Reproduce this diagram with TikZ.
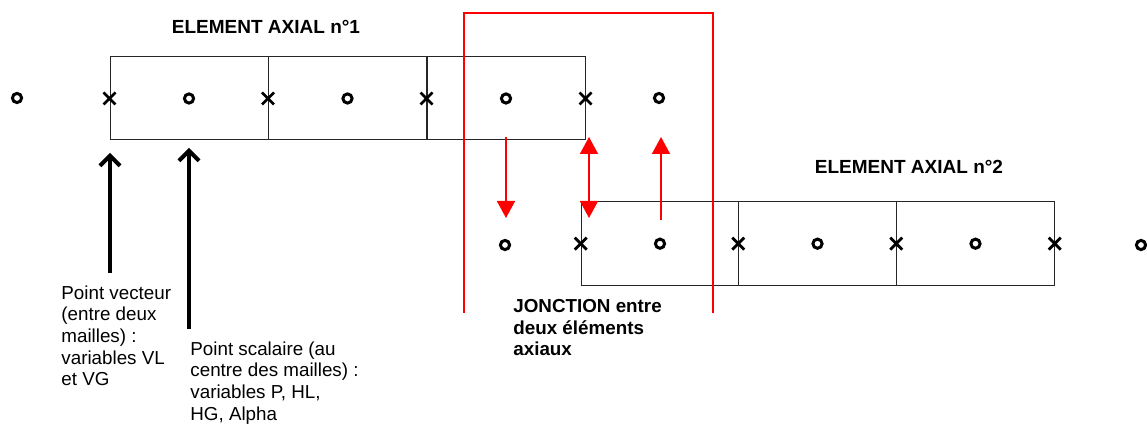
\documentclass[tikz,border=0pt]{standalone}
\usepackage{fontspec}
\setmainfont{Liberation Sans}
\usetikzlibrary{shapes.misc,arrows.meta}

\begin{document}
\begin{tikzpicture}[
    x=0.5pt, y=-0.5pt,
    cell/.style={rectangle, draw=black!85, line width=0.5pt, minimum width=79pt, minimum height=41.5pt, inner sep=0pt},
    scal/.style={circle, draw, line width=1.5pt, inner sep=0pt, minimum size=4.6pt},
    vect/.style={cross out, draw, line width=1.4pt, inner sep=0pt, minimum size=4.6pt},
    title/.style={font=\bfseries\fontsize{9.5}{11}\selectfont},
    note/.style={font=\fontsize{9.4}{10.85}\selectfont, align=left, anchor=north west, inner sep=0pt},
    pointer/.style={-{Straight Barb[length=5pt, width=10pt]}, line width=2pt},
    link/.style={red, line width=0.8pt}
]
\useasboundingbox (0,0) rectangle (1147,427);

% Element axial 1
\node[title] (titleA) at (266,27) {ELEMENT AXIAL n°1};
\node[cell] (cellA1) at (189,98.5) {};
\node[cell] (cellA2) at (347.5,98.5) {};
\node[cell] (cellA3) at (506,98.5) {};

% Element axial 2
\node[title] (titleB) at (909,167) {ELEMENT AXIAL n°2};
\node[cell, minimum height=42pt, minimum width=78.75pt] (cellB1) at (660,243.7) {};
\node[cell, minimum height=42pt, minimum width=78.75pt] (cellB2) at (817.5,243.7) {};
\node[cell, minimum height=42pt, minimum width=78.75pt] (cellB3) at (975.5,243.7) {};

% Points scalaires
\node[scal] (sA0) at (17,98) {};
\node[scal] (sA1) at (cellA1) {};
\node[scal] (sA2) at (cellA2) {};
\node[scal] (sA3) at (cellA3) {};
\node[scal] (sA4) at (659,98) {};
\node[scal] (sB0) at (505,245) {};
\node[scal] (sB1) at (cellB1) {};
\node[scal] (sB2) at (cellB2) {};
\node[scal] (sB3) at (cellB3) {};
\node[scal] (sB4) at (1141,245) {};

% Points vecteurs
\node[vect] (vA1) at (cellA1.west) {};
\node[vect] (vA2) at (cellA2.west) {};
\node[vect] (vA3) at (cellA3.west) {};
\node[vect] (vA4) at (cellA3.east) {};
\node[vect] (vB1) at (cellB1.west) {};
\node[vect] (vB2) at (cellB2.west) {};
\node[vect] (vB3) at (cellB3.west) {};
\node[vect] (vB4) at (cellB3.east) {};

% Jonction
\draw[red, line width=1pt] (464,313) -- (464,13) -- (713,13) -- (713,313);
\node[note, font=\bfseries\fontsize{9.4}{10.85}\selectfont] (jonction) at (513,299) {JONCTION entre\\deux éléments\\axiaux};
\coordinate (dA) at (506,137);
\coordinate (dB) at (506,218);
\coordinate (eA) at (589,137);
\coordinate (eB) at (589,218);
\coordinate (uA) at (661,137);
\coordinate (uB) at (661,220);
\draw[link, -{Triangle[length=8.5pt, width=9pt]}] (dA) -- (dB);
\draw[link, {Triangle[length=8.5pt, width=9pt]}-{Triangle[length=8.5pt, width=9pt]}] (eA) -- (eB);
\draw[link, -{Triangle[length=8.5pt, width=9pt]}] (uB) -- (uA);

% Legendes
\node[note] (vecteur) at (61,285) {Point vecteur\\(entre deux\\mailles) :\\variables VL\\et VG};
\node[note] (scalaire) at (190,341) {Point scalaire (au\\centre des mailles) :\\variables P, HL,\\HG, Alpha};
\coordinate (pV) at (110,273);
\coordinate (tV) at (110,153);
\coordinate (pS) at (189,329);
\coordinate (tS) at (189,148);
\draw[pointer] (pV) -- (tV);
\draw[pointer] (pS) -- (tS);

\end{tikzpicture}
\end{document}
